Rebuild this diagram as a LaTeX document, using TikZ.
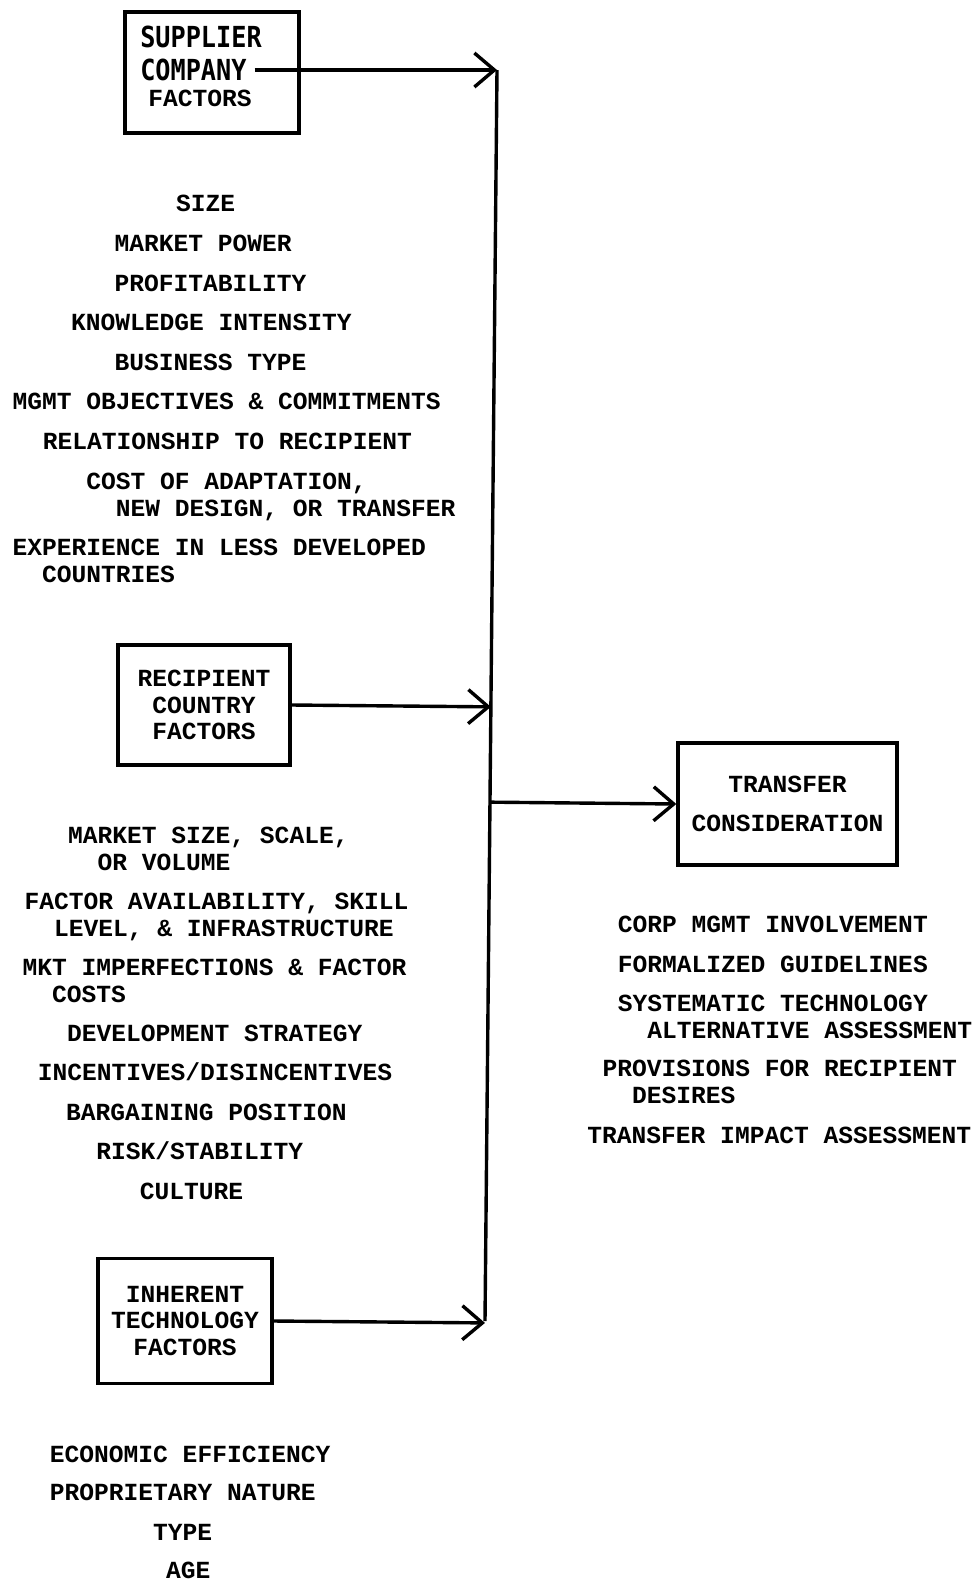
\documentclass[tikz,border=0pt]{standalone}
\usepackage{fontspec}
\setmonofont{Liberation Mono}
\newfontfamily\ocrfont{DejaVu Sans Mono}
\usetikzlibrary{calc, arrows.meta}

\newcommand{\tw}{\ttfamily\bfseries\fontsize{12.3}{13.15}\selectfont}
\newcommand{\ocr}[1]{\scalebox{1}[1.15]{\ocrfont\fontsize{12.6}{13}\selectfont #1}}

\begin{document}
\begin{tikzpicture}[x=0.5pt, y=-0.5pt,
  box/.style={draw, line width=1.7pt, inner sep=0pt, font=\tw, align=center},
  item/.style={anchor=base west, inner sep=0pt, font=\tw, align=left},
  flow/.style={line width=1.7pt, -{Straight Barb[length=10pt, width=17pt]}}]
  \useasboundingbox (0, 0) rectangle (973, 1585);

% supplier company
  \draw (212, 72.5) node[box, minimum width=87pt, minimum height=60.5pt, align=left] (supplier)
    {\ocr{SUPPLIER}\rule{11pt}{0pt}\\[3.3pt]\ocr{COMPANY}\\\hspace*{4pt}FACTORS\rule[-6pt]{0pt}{6pt}};
  \draw (175.8, 211) node[item] (size) {SIZE};
  \draw (114.2, 251) node[item] (power) {MARKET POWER};
  \draw (114.2, 291) node[item] (profit) {PROFITABILITY};
  \draw (70.7, 330) node[item] (knowledge) {KNOWLEDGE INTENSITY};
  \draw (114.2, 370) node[item] (business) {BUSINESS TYPE};
  \draw (12.1, 409) node[item] (mgmt) {MGMT OBJECTIVES \& COMMITMENTS};
  \draw (42.4, 449) node[item] (relation) {RELATIONSHIP TO RECIPIENT};
  \draw (85.9, 516) node[item] (cost) {COST OF ADAPTATION,\\\phantom{XX}NEW DESIGN, OR TRANSFER};
  \draw (12.1, 582) node[item] (experience) {EXPERIENCE IN LESS DEVELOPED\\\phantom{XX}COUNTRIES};

% recipient country
  \draw (204, 705) node[box, minimum width=86pt, minimum height=60pt] (recipient) {RECIPIENT\\COUNTRY\\FACTORS};
  \draw (67.7, 870) node[item] (marketsize) {MARKET SIZE, SCALE,\\\phantom{XX}OR VOLUME};
  \draw (24.2, 936) node[item] (availability) {FACTOR AVAILABILITY, SKILL\\\phantom{XX}LEVEL, \& INFRASTRUCTURE};
  \draw (22.2, 1002) node[item] (imperfections) {MKT IMPERFECTIONS \& FACTOR\\\phantom{XX}COSTS};
  \draw (66.7, 1041) node[item] (strategy) {DEVELOPMENT STRATEGY};
  \draw (37.4, 1080) node[item] (incentives) {INCENTIVES/DISINCENTIVES};
  \draw (65.7, 1120) node[item] (bargaining) {BARGAINING POSITION};
  \draw (96, 1159) node[item] (risk) {RISK/STABILITY};
  \draw (139.4, 1199) node[item] (culture) {CULTURE};

% inherent technology
  \draw (185, 1321) node[box, minimum width=87pt, minimum height=62.5pt] (inherent) {INHERENT\\TECHNOLOGY\\FACTORS};
  \draw (49.5, 1462) node[item] (efficiency) {ECONOMIC EFFICIENCY};
  \draw (49.5, 1500) node[item] (proprietary) {PROPRIETARY NATURE};
  \draw (152.6, 1540) node[item] (type) {TYPE};
  \draw (165.7, 1578) node[item] (age) {AGE};

% transfer consideration
  \draw (787.5, 804) node[box, minimum width=109.5pt, minimum height=61pt] (transfer) {TRANSFER\\[6pt]CONSIDERATION};
  \draw (617.4, 932) node[item] (involvement) {CORP MGMT INVOLVEMENT};
  \draw (617.4, 972) node[item] (guidelines) {FORMALIZED GUIDELINES};
  \draw (617.4, 1038) node[item] (systematic) {SYSTEMATIC TECHNOLOGY\\\phantom{XX}ALTERNATIVE ASSESSMENT};
  \draw (602.2, 1103) node[item] (provisions) {PROVISIONS FOR RECIPIENT\\\phantom{XX}DESIRES};
  \draw (587, 1143) node[item] (impact) {TRANSFER IMPACT ASSESSMENT};

% connectors
  \coordinate (bustop) at (497, 70);
  \coordinate (busbot) at (485, 1321);
  \draw[line width=1.7pt] (bustop) -- (busbot);
  \draw[flow] ($(supplier.east) + (-46, -2.5)$) -- (bustop);
  \draw[flow] (recipient.east) -- ($(bustop)!(recipient.east)!(busbot)$);
  \draw[flow] (inherent.east) -- ($(bustop)!(inherent.east)!(busbot)$);
  \draw[flow] ($(bustop)!(transfer.west)!(busbot)$) -- (transfer.west);
\end{tikzpicture}
\end{document}
